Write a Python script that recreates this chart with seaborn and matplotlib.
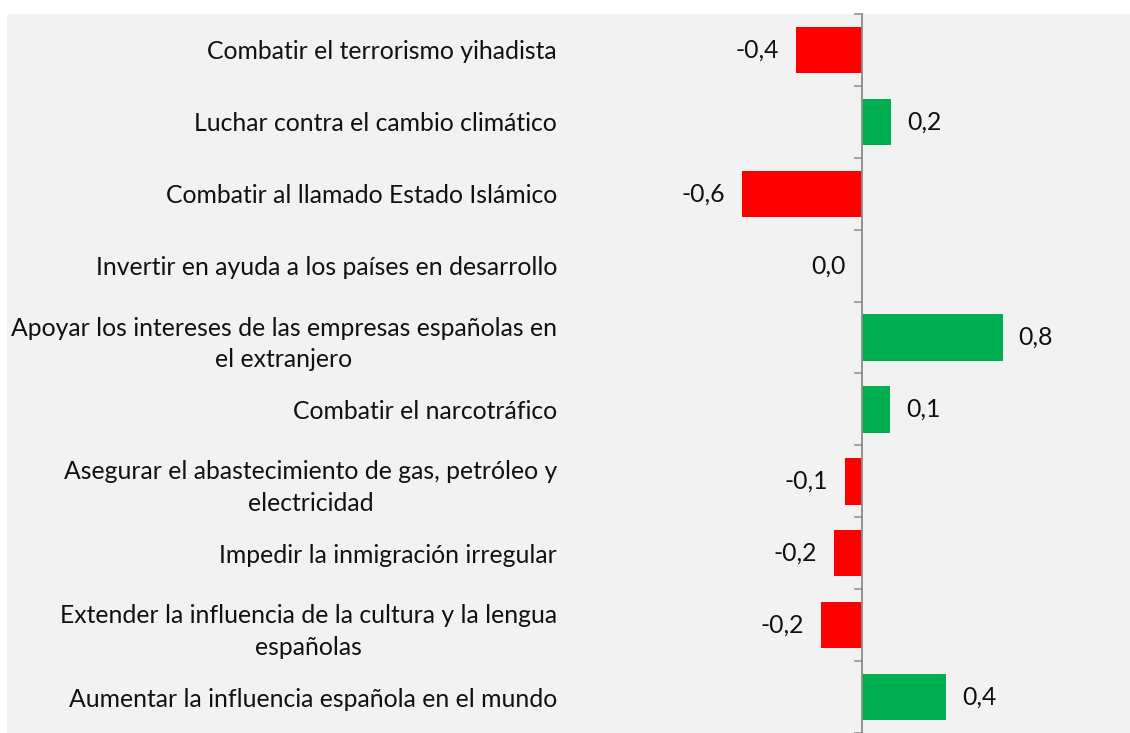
import numpy as np
import pandas as pd
import seaborn as sns
import matplotlib.pyplot as plt

# categories, top to bottom
categories = [
    'Combatir el terrorismo yihadista',
    'Luchar contra el cambio climático',
    'Combatir al llamado Estado Islámico',
    'Invertir en ayuda a los países en desarrollo',
    'Apoyar los intereses de las empresas españolas en\nel extranjero',
    'Combatir el narcotráfico',
    'Asegurar el abastecimiento de gas, petróleo y\nelectricidad',
    'Impedir la inmigración irregular',
    'Extender la influencia de la cultura y la lengua\nespañolas',
    'Aumentar la influencia española en el mundo',
]
values = [-0.375, 0.165, -0.68, 0.0, 0.80, 0.16, -0.097, -0.16, -0.233, 0.477]
value_labels = ['-0,4', '0,2', '-0,6', '0,0', '0,8', '0,1', '-0,1', '-0,2', '-0,2', '0,4']


def main():
    sns.set_style('white')
    plt.rcParams['font.family'] = ['Lato', 'DejaVu Sans']
    fs = 17.8

    df = pd.DataFrame({'cat': categories, 'val': values})
    df['sign'] = np.where(df['val'] >= 0, 'pos', 'neg')

    fig = plt.figure(figsize=(11.3, 7.33), dpi=100)
    fig.patch.set_facecolor('white')
    ax = fig.add_axes([7 / 1130, 0, 1123 / 1130, 719 / 733])
    ax.set_facecolor('#F2F2F2')

    sns.barplot(
        data=df, x='val', y='cat', hue='sign',
        palette={'pos': '#00B050', 'neg': '#FF0000'},
        dodge=False, width=0.645, legend=False, orient='h', ax=ax,
        saturation=1, linewidth=0,
    )

    ax.set_xlim(-4.858, 1.523)
    ax.set_ylim(9.38, -0.5)

    # value labels
    for i, (v, lab) in enumerate(zip(values, value_labels)):
        if v > 0:
            ax.annotate(lab, (v, i), xytext=(11.5, 0), textcoords='offset points',
                        ha='left', va='center', fontsize=fs, color='#111111')
        else:
            ax.annotate(lab, (v, i), xytext=(-12, 0), textcoords='offset points',
                        ha='right', va='center', fontsize=fs, color='#111111')

    # vertical axis through zero
    for s in ['top', 'right', 'bottom']:
        ax.spines[s].set_visible(False)
    ax.spines['left'].set_position(('data', 0))
    ax.spines['left'].set_color('#8C8C8C')
    ax.spines['left'].set_linewidth(1.3)

    ax.set_xticks([])
    ax.set_yticks(np.arange(-0.5, len(categories), 1), minor=True)
    ax.tick_params(axis='y', which='minor', length=5.8, width=1.1, color='#8C8C8C', left=True)
    ax.tick_params(axis='y', which='major', length=0, pad=219.6, labelsize=fs,
                   labelcolor='#111111')
    for t in ax.get_yticklabels():
        t.set_multialignment('center')
        t.set_linespacing(1.45)

    ax.set_xlabel('')
    ax.set_ylabel('')

    fig.savefig('out.png', dpi=100, facecolor='white')


if __name__ == '__main__':
    main()
